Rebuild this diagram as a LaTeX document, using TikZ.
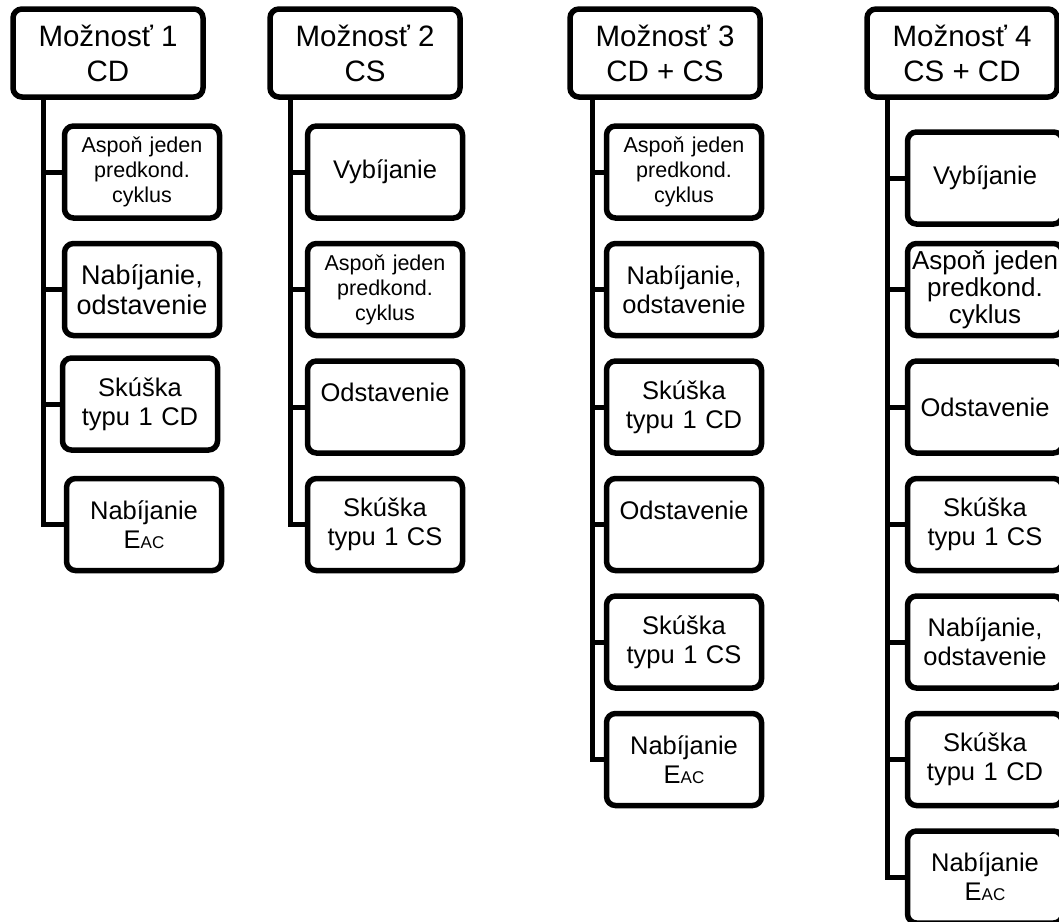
\documentclass[tikz,border=0pt]{standalone}
\usepackage{fontspec}
\setmainfont{Liberation Sans}

% E with the small AC index
\newcommand{\eac}{E{\fontsize{17}{17}\selectfont AC}}

\begin{document}
\begin{tikzpicture}[x=1pt, y=-1pt, line width=5pt,
    head/.style={draw, line width=5.5pt, rounded corners=9pt, minimum width=190pt, minimum height=88pt,
      inner sep=0pt, align=center, font=\fontsize{29.5}{35}\selectfont},
    item/.style={draw, line width=5.5pt, rounded corners=9pt, minimum width=155pt, minimum height=92pt,
      text width=152pt, inner sep=0pt, align=center, font=\fontsize{25.5}{29}\selectfont},
    smalltext/.style={font=\fontsize{21.5}{25}\selectfont}]
    \useasboundingbox (0,0) rectangle (1059,921);
    \clip (0,0) rectangle (1059,921);

    % Moznost 1
    \node[head] (h1) at (108,53) {Možnosť 1\\CD};
    \node[item, smalltext] (b11) at (142,172) {Aspoň jeden\\predkond.\\cyklus};
    \node[item, font=\fontsize{27}{30}\selectfont] (b12) at (142,289.5) {Nabíjanie,\\odstavenie};
    \node[item] (b13) at (140,404) {Skúška\\typu 1 CD};
    \node[item] (b14) at (144,524.5) {Nabíjanie\\\eac};

    % Moznost 2
    \node[head] (h2) at (365,53) {Možnosť 2\\CS};
    \node[item] (b21) at (385,172) {Vybíjanie};
    \node[item, smalltext] (b22) at (385,289.5) {Aspoň jeden\\predkond.\\cyklus};
    \node[item] (b23) at (385,407) {Odstavenie\\~};
    \node[item] (b24) at (385,524.5) {Skúška\\typu 1 CS};

    % Moznost 3
    \node[head] (h3) at (665,53) {Možnosť 3\\CD + CS};
    \node[item, smalltext] (b31) at (684,172) {Aspoň jeden\\predkond.\\cyklus};
    \node[item] (b32) at (684,289.5) {Nabíjanie,\\odstavenie};
    \node[item] (b33) at (684,407) {Skúška\\typu 1 CD};
    \node[item] (b34) at (684,524.5) {Odstavenie\\~};
    \node[item] (b35) at (684,642) {Skúška\\typu 1 CS};
    \node[item] (b36) at (684,759.5) {Nabíjanie\\\eac};

    % Moznost 4
    \node[head] (h4) at (962,53) {Možnosť 4\\CS + CD};
    \node[item] (b41) at (985,178) {Vybíjanie};
    \node[item, font=\fontsize{26}{27}\selectfont] (b42) at (985,289.5) {Aspoň jeden\\predkond.\\cyklus};
    \node[item] (b43) at (985,407) {Odstavenie};
    \node[item] (b44) at (985,524.5) {Skúška\\typu 1 CS};
    \node[item] (b45) at (985,642) {Nabíjanie,\\odstavenie};
    \node[item] (b46) at (985,759.5) {Skúška\\typu 1 CD};
    \node[item] (b47) at (985,877) {Nabíjanie\\\eac};

    % trunks
    \coordinate (t1) at (43,0);
    \coordinate (t2) at (290,0);
    \coordinate (t3) at (592,0);
    \coordinate (t4) at (887,0);
    \draw (h1.south -| t1) |- (b14.west);
    \draw (h2.south -| t2) |- (b24.west);
    \draw (h3.south -| t3) |- (b36.west);
    \draw (h4.south -| t4) |- (b47.west);

    % branches
    \foreach \t/\b in {t1/b11, t1/b12, t1/b13, t2/b21, t2/b22, t2/b23,
        t3/b31, t3/b32, t3/b33, t3/b34, t3/b35,
        t4/b41, t4/b42, t4/b43, t4/b44, t4/b45, t4/b46}
      \draw (\b.west -| \t) -- (\b.west);
\end{tikzpicture}
\end{document}
